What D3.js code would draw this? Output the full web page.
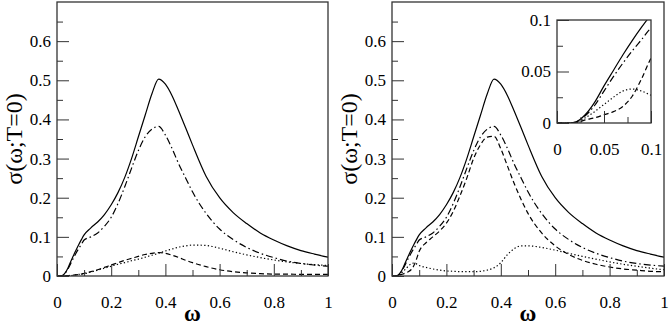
<!DOCTYPE html>
<html><head><meta charset="utf-8">
<script src="https://cdn.jsdelivr.net/npm/d3@7"></script>
<style>
html,body{margin:0;padding:0;background:#fff;}
svg{display:block;}
</style></head>
<body>
<svg id="chart" width="669" height="327" font-family="Liberation Serif"></svg>
<script>
// ---------------- DATA ----------------
const omega = [0,0.01,0.02,0.03,0.04,0.05,0.06,0.07,0.08,0.09,0.1,0.125,0.15,0.175,0.2,0.225,0.25,0.275,0.3,0.325,0.35,0.375,0.4,0.425,0.45,0.475,0.5,0.55,0.6,0.65,0.7,0.75,0.8,0.85,0.9,0.95,1.0];

const solid    = [0,0,0.001,0.008,0.02,0.036,0.051,0.066,0.08,0.093,0.105,0.123,0.138,0.157,0.182,0.213,0.252,0.3,0.355,0.41,0.465,0.503,0.49,0.46,0.42,0.378,0.335,0.255,0.2,0.162,0.134,0.11,0.092,0.077,0.065,0.056,0.048];
const dashDot  = [0,0,0.001,0.007,0.017,0.031,0.045,0.058,0.07,0.081,0.092,0.1,0.11,0.127,0.15,0.185,0.228,0.275,0.32,0.355,0.375,0.382,0.36,0.325,0.285,0.25,0.215,0.16,0.12,0.093,0.073,0.058,0.047,0.038,0.032,0.028,0.025];
const dashedL  = [0,0,0,0.0005,0.001,0.0015,0.002,0.003,0.004,0.005,0.007,0.011,0.016,0.022,0.028,0.034,0.04,0.045,0.05,0.055,0.058,0.06,0.058,0.053,0.047,0.04,0.034,0.024,0.016,0.011,0.008,0.006,0.005,0.005,0.004,0.004,0.004];
const dottedL  = [0,0,0,0.0003,0.0006,0.001,0.002,0.003,0.004,0.005,0.006,0.01,0.015,0.02,0.025,0.03,0.034,0.039,0.043,0.048,0.053,0.058,0.064,0.069,0.074,0.077,0.079,0.078,0.071,0.062,0.054,0.047,0.041,0.036,0.032,0.029,0.027];
const dashedR  = [0,0,0,0.003,0.005,0.008,0.011,0.016,0.026,0.043,0.063,0.085,0.1,0.115,0.135,0.165,0.205,0.25,0.3,0.335,0.355,0.357,0.325,0.28,0.235,0.195,0.16,0.11,0.077,0.055,0.04,0.03,0.023,0.018,0.015,0.012,0.011];
const dottedR  = [0,0,0,0.005,0.011,0.018,0.025,0.031,0.033,0.031,0.027,0.022,0.018,0.015,0.013,0.012,0.011,0.011,0.011,0.012,0.015,0.021,0.034,0.055,0.07,0.077,0.077,0.073,0.066,0.058,0.05,0.043,0.036,0.03,0.025,0.02,0.016];

const xTicks = [0,0.2,0.4,0.6,0.8,1];
const xTickLabels = ["0","0.2","0.4","0.6","0.8","1"];
const xMinor = [0.1,0.3,0.5,0.7,0.9];
const yTicks = [0,0.1,0.2,0.3,0.4,0.5,0.6];
const yTickLabels = ["0","0.1","0.2","0.3","0.4","0.5","0.6"];
const yMinor = [0.05,0.15,0.25,0.35,0.45,0.55,0.65];
const insetTicks = [0,0.05,0.1];
const insetTickLabels = ["0","0.05","0.1"];
const insetMinor = [0.025,0.075];

const yTitle = "σ(ω;T=0)";
const xTitle = "ω";

// ---------------- STYLE ----------------
const styles = {
  solid:   {dash: null},
  dashDot: {dash: "7,3,1.5,3"},
  dashed:  {dash: "5,3"},
  dotted:  {dash: "1.3,2.3"}
};
const FONT = "Liberation Serif";
const svg = d3.select("#chart");

function panel(id, x0, x1, yTop, yBot, xDom, yDom, opts){
  const g = svg.append("g");
  const x = d3.scaleLinear().domain(xDom).range([x0, x1]);
  const y = d3.scaleLinear().domain(yDom).range([yBot, yTop]);
  if (opts.bg) g.append("rect").attr("x",x0).attr("y",yTop).attr("width",x1-x0).attr("height",yBot-yTop).attr("fill","#fff");
  const clipId = "clip-"+id;
  g.append("clipPath").attr("id",clipId).append("rect")
    .attr("x",x0).attr("y",yTop).attr("width",x1-x0).attr("height",yBot-yTop);
  const line = d3.line().x(d=>x(d[0])).y(d=>y(d[1])).curve(d3.curveMonotoneX);
  const cg = g.append("g").attr("clip-path","url(#"+clipId+")");
  opts.series.forEach(s=>{
    const pts = omega.map((w,i)=>[w, s.values[i]]);
    cg.append("path").attr("d", line(pts)).attr("fill","none")
      .attr("stroke","#000").attr("stroke-width",1.2)
      .attr("stroke-dasharray", styles[s.style].dash);
  });
  const xMaj = d3.axisBottom(x).tickValues(opts.xTicks).tickSize(-opts.majLen).tickPadding(opts.xPad)
      .tickFormat((d,i)=>opts.xLabels[i]);
  const xMin = d3.axisBottom(x).tickValues(opts.xMinor).tickSize(-opts.minLen).tickFormat("");
  const yMaj = d3.axisLeft(y).tickValues(opts.yTicks).tickSize(-opts.majLen).tickPadding(opts.yPad)
      .tickFormat((d,i)=>opts.yLabels[i]);
  const yMin = d3.axisLeft(y).tickValues(opts.yMinor).tickSize(-opts.minLen).tickFormat("");
  [[xMaj,"x"],[xMin,"x"],[yMaj,"y"],[yMin,"y"]].forEach(([a,t])=>{
    const ag = g.append("g").attr("transform", t==="x" ? `translate(0,${yBot})` : `translate(${x0},0)`).call(a);
    ag.attr("font-family", FONT).attr("font-size", opts.fontSize);
    ag.select(".domain").remove();
    ag.selectAll(".tick line").attr("stroke","#333").attr("stroke-width",1);
    ag.selectAll("text").attr("font-family",FONT).attr("font-size",opts.fontSize).attr("fill","#000");
  });
  g.append("rect").attr("x",x0).attr("y",yTop).attr("width",x1-x0).attr("height",yBot-yTop)
    .attr("fill","none").attr("stroke","#333").attr("stroke-width",1.3);
  if (opts.titles){
    g.append("text").attr("x",(x0+x1)/2).attr("y",321).attr("text-anchor","middle")
      .attr("font-family",FONT).attr("font-weight","bold").attr("font-size",23).text(xTitle);
    g.append("text").attr("transform",`translate(${opts.yTitleX},${(yTop+yBot)/2}) rotate(-90)`)
      .attr("text-anchor","middle").attr("font-family",FONT).attr("font-size",24).text(yTitle);
  }
}

const mainOpts = {xTicks, xLabels:xTickLabels, xMinor, yTicks, yLabels:yTickLabels, yMinor,
  majLen:12, minLen:6, xPad:20, yPad:6, fontSize:17, titles:true};

panel("L", 57, 328, 2, 276, [0,1], [0,0.7], Object.assign({}, mainOpts, {yTitleX:22,
  series:[{values:solid,style:"solid"},{values:dashDot,style:"dashDot"},{values:dashedL,style:"dashed"},{values:dottedL,style:"dotted"}]}));

panel("R", 392, 664, 2, 276, [0,1], [0,0.7], Object.assign({}, mainOpts, {yTitleX:357,
  series:[{values:solid,style:"solid"},{values:dashDot,style:"dashDot"},{values:dashedR,style:"dashed"},{values:dottedR,style:"dotted"}]}));

panel("I", 557, 651, 20, 123, [0,0.1], [0,0.1], {xTicks:insetTicks, xLabels:insetTickLabels, xMinor:insetMinor,
  yTicks:insetTicks, yLabels:insetTickLabels, yMinor:insetMinor, majLen:12, minLen:6, xPad:20, yPad:6, fontSize:17,
  titles:false, bg:true,
  series:[{values:solid,style:"solid"},{values:dashDot,style:"dashDot"},{values:dashedR,style:"dashed"},{values:dottedR,style:"dotted"}]});
</script>
</body></html>
